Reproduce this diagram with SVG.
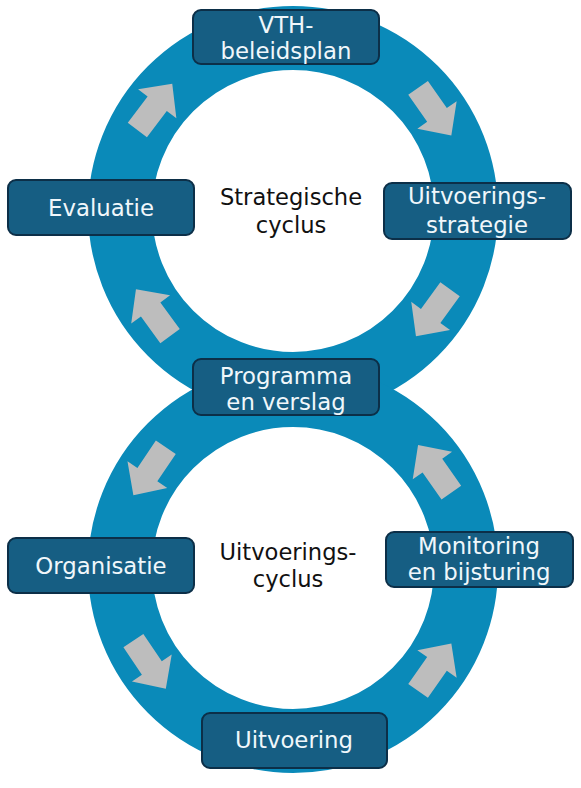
<svg xmlns="http://www.w3.org/2000/svg" width="581" height="788" viewBox="0 0 581 788">
<style>
.ring{fill:none;stroke:#0a8ab9;stroke-width:64}
.arr{fill:#bdbdbd}
.box{fill:#165e83;stroke:#0c2f48;stroke-width:2}
.bt{fill:#f0f7fb;font-family:"DejaVu Sans",Verdana,sans-serif;font-size:22.8px;text-anchor:middle}
.ct{fill:#111;font-family:"DejaVu Sans",Verdana,sans-serif;font-size:22.6px;text-anchor:middle}
</style>
<defs>
<polygon id="ar" points="-29,-12 4,-12 4,-24 29,0 4,24 4,12 -29,12"/>
</defs>
<rect width="581" height="788" fill="#fff"/>
<g id="connectors">
<circle class="ring" cx="293" cy="211" r="173"/>
<circle class="ring" cx="293" cy="568" r="173"/>
<use href="#ar" class="arr" transform="translate(434.7,111.7) rotate(55)"/>
<use href="#ar" class="arr" transform="translate(433,312.7) rotate(126)"/>
<use href="#ar" class="arr" transform="translate(153,312.7) rotate(234)"/>
<use href="#ar" class="arr" transform="translate(154.8,106.9) rotate(307)"/>
<use href="#ar" class="arr" transform="translate(434.7,468.8) rotate(-125)"/>
<use href="#ar" class="arr" transform="translate(434.7,667.2) rotate(-55)"/>
<use href="#ar" class="arr" transform="translate(149.6,664.7) rotate(56)"/>
<use href="#ar" class="arr" transform="translate(149.6,471.3) rotate(124)"/>
</g>
<g id="label-strategisch">
<text class="ct" x="291" y="205">Strategische</text>
<text class="ct" x="291" y="233">cyclus</text>
</g>
<g id="label-uitvoering">
<text class="ct" x="288" y="560">Uitvoerings-</text>
<text class="ct" x="288" y="587">cyclus</text>
</g>
<g id="vth">
<rect class="box" x="193" y="10" width="186" height="54" rx="8"/>
<text class="bt" x="286" y="33">VTH-</text>
<text class="bt" x="286" y="59">beleidsplan</text>
</g>
<g id="evaluatie">
<rect class="box" x="8" y="180" width="186" height="55" rx="8"/>
<text class="bt" x="101" y="216">Evaluatie</text>
</g>
<g id="uitvoeringsstrategie">
<rect class="box" x="384" y="183" width="187" height="56" rx="8"/>
<text class="bt" x="477" y="204">Uitvoerings-</text>
<text class="bt" x="477" y="233">strategie</text>
</g>
<g id="programma">
<rect class="box" x="193" y="359" width="186" height="56" rx="8"/>
<text class="bt" x="286" y="384">Programma</text>
<text class="bt" x="286" y="410">en verslag</text>
</g>
<g id="organisatie">
<rect class="box" x="8" y="538" width="186" height="55" rx="8"/>
<text class="bt" x="101" y="574">Organisatie</text>
</g>
<g id="monitoring">
<rect class="box" x="386" y="532" width="187" height="55" rx="8"/>
<text class="bt" x="479" y="554">Monitoring</text>
<text class="bt" x="479" y="580">en bijsturing</text>
</g>
<g id="uitvoering">
<rect class="box" x="202" y="713" width="185" height="55" rx="8"/>
<text class="bt" x="294" y="748">Uitvoering</text>
</g>
</svg>
